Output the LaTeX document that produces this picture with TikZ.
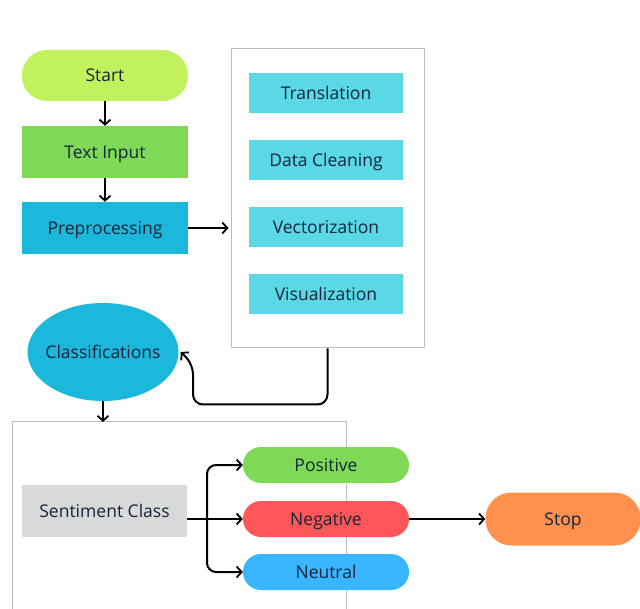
\documentclass[tikz,border=0pt]{standalone}
\usepackage{fontspec}
\setmainfont{Open Sans}
\usetikzlibrary{arrows.meta,shapes.geometric}
\definecolor{ink}{HTML}{14243A}
\definecolor{lime}{HTML}{C1F25E}
\definecolor{grn}{HTML}{7ED957}
\definecolor{cyan1}{HTML}{1CB8DC}
\definecolor{cyan2}{HTML}{5AD8E6}
\definecolor{gry}{HTML}{D9D9D9}
\definecolor{red1}{HTML}{FF5757}
\definecolor{blu}{HTML}{38B6FF}
\definecolor{orn}{HTML}{FF914D}
\definecolor{frame}{HTML}{BDBDBD}
\tikzset{
  lbl/.style={text=ink, font=\fontsize{17.5}{20}\selectfont, inner sep=0pt, anchor=center, text depth=0pt},
  pill/.style={lbl, rounded corners=18pt},
  conn/.style={draw=black, line width=2pt, -{Straight Barb[length=5pt,width=11pt,line width=1.8pt]}},
  panel/.style={draw=frame, line width=1pt, fill=white},
}
\begin{document}
\begin{tikzpicture}[x=1pt,y=-1pt]
\useasboundingbox (0,0) rectangle (640,609);
\fill[white] (0,0) rectangle (640,609);

% left column
\node[pill, fill=lime, minimum width=166pt, minimum height=51pt, rounded corners=25pt] (start) at (105,75.5) {Start};
\node[lbl, fill=grn, minimum width=166pt, minimum height=52pt] (input) at (105,152) {Text Input};
\node[lbl, fill=cyan1, minimum width=166pt, minimum height=52pt] (prep) at (105,228) {Preprocessing};

% preprocessing panel
\node[panel, minimum width=193pt, minimum height=299pt] (pbox) at (327.5,198.5) {};
\node[lbl, fill=cyan2, minimum width=154pt, minimum height=40pt] (trans) at (326,93) {Translation};
\node[lbl, fill=cyan2, minimum width=154pt, minimum height=40pt] (clean) at (326,160) {Data Cleaning};
\node[lbl, fill=cyan2, minimum width=154pt, minimum height=40pt] (vect) at (326,227) {Vectorization};
\node[lbl, fill=cyan2, minimum width=154pt, minimum height=40pt] (visu) at (326,294) {Visualization};

% classification
\node[lbl, ellipse, fill=cyan1, inner xsep=-8pt, minimum width=151pt, minimum height=98pt] (cls) at (103,352) {Classifications};

% sentiment panel (runs off the lower edge)
\draw[frame, line width=1pt] (12,615) -- (12,422) -- (346,422) -- (346,615);
\coordinate (spanel) at (103,422);
\node[lbl, fill=gry, minimum width=165pt, minimum height=52pt] (sent) at (104.5,511) {Sentiment Class};
\node[pill, fill=grn, minimum width=166pt, minimum height=36pt] (pos) at (326,465) {Positive};
\node[pill, fill=red1, minimum width=166pt, minimum height=36pt] (neg) at (326,519) {Negative};
\node[pill, fill=blu, minimum width=166pt, minimum height=36pt] (neu) at (326,572) {Neutral};
\node[pill, fill=orn, minimum width=155pt, minimum height=53pt, rounded corners=26pt] (stop) at (563,519) {Stop};

% connectors
\draw[conn] (start.south) -- (input.north);
\draw[conn] (input.south) -- (prep.north);
\draw[conn] (prep.east) -- ([xshift=-2pt]pbox.west |- prep.east);
\draw[conn, rounded corners=10pt] (pbox.south) -- ++(0,56) -| (193,364) -- ([xshift=2pt]cls.east);
\draw[conn] (cls.south) -- (spanel);
\draw[conn] (sent.east |- neg.west) -- (neg.west);
\draw[conn, rounded corners=9pt] (207,519) |- (pos.west);
\draw[conn, rounded corners=9pt] (207,519) |- (neu.west);
\draw[conn] (neg.east) -- (stop.west);
\end{tikzpicture}
\end{document}
